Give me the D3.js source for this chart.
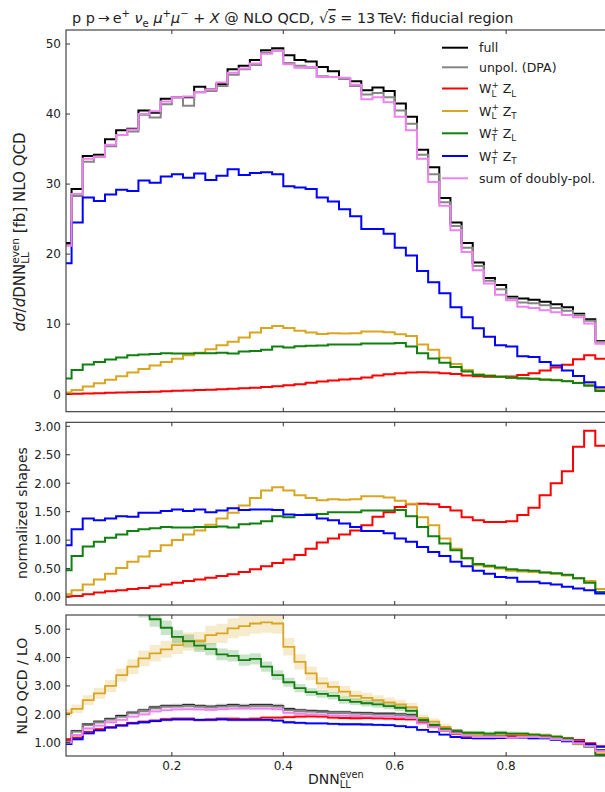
<!DOCTYPE html>
<html><head><meta charset="utf-8">
<script src="https://cdn.jsdelivr.net/npm/d3@7"></script>
<style>
body{margin:0;background:#fff}
svg{display:block}
text{font-family:"DejaVu Sans",sans-serif;fill:#222}
</style>
</head><body>
<svg id="c" width="605" height="792"></svg>
<script>
// ---------------- DATA ----------------
const binEdges = [0.00,0.02,0.04,0.06,0.08,0.10,0.12,0.14,0.16,0.18,0.20,0.22,0.24,0.26,0.28,0.30,0.32,0.34,0.36,0.38,
  0.40,0.42,0.44,0.46,0.48,0.50,0.52,0.54,0.56,0.58,0.60,0.62,0.64,0.66,0.68,0.70,0.72,0.74,0.76,0.78,
  0.80,0.82,0.84,0.86,0.88,0.90,0.92,0.94,0.96,0.98,1.00];

const seriesNames = ["full","unpol. (DPA)","LL","LT","TL","TT","sum of doubly-pol."];
const seriesColors = ["#000000","#858585","#ff0000","#daa520","#108010","#0000ff","#ee82ee"];

// top panel: dσ/dDNN [fb]
const topFull  = [21.6,29.3,34.0,34.2,36.4,37.7,37.9,40.5,40.2,42.2, 42.4,42.4,43.9,43.5,44.3,46.4,46.9,47.7,49.1,49.4, 48.4,47.7,47.5,46.7,46.1,45.0,44.7,43.4,43.8,43.3, 41.5,39.6,34.9,32.4,28.0,24.5,21.6,18.8,16.6,15.6, 13.9,13.65,13.5,13.2,12.85,12.4,11.5,10.7,7.6,7.4];
const topUnpol = [21.3,28.3,33.2,33.9,35.4,37.0,37.5,39.9,39.5,41.4, 42.4,41.2,43.1,43.3,44.0,45.6,46.4,47.0,48.8,49.1, 47.3,46.9,46.6,45.4,45.3,45.0,44.0,42.8,43.0,42.4, 40.5,38.6,34.2,31.4,27.4,24.0,20.9,18.3,16.2,15.0, 13.7,13.1,13.0,12.7,12.3,11.9,11.3,10.5,7.5,7.3];
const topLL    = [0.03,0.05,0.10,0.15,0.19,0.23,0.27,0.31,0.36,0.42, 0.48,0.54,0.60,0.65,0.71,0.77,0.84,0.93,1.03,1.14, 1.26,1.41,1.62,1.82,1.96,2.09,2.22,2.40,2.68,2.83, 3.00,3.10,3.12,3.10,3.00,2.89,2.66,2.57,2.50,2.50, 2.53,2.74,2.98,3.40,3.80,4.20,5.00,5.55,5.05,4.98];
const topLT    = [0.25,0.60,1.10,1.55,2.05,2.55,3.10,3.60,4.10,4.60, 5.05,5.55,5.90,6.40,7.00,7.50,8.10,8.80,9.45,9.75, 9.45,9.05,8.80,8.60,8.70,8.65,8.70,8.95,8.95,8.85, 8.55,8.30,7.10,6.35,5.20,4.30,3.45,2.85,2.70,2.50, 2.35,2.30,2.20,2.15,2.05,1.90,1.65,1.40,0.70,0.60];
const topTL    = [2.25,3.45,4.25,4.60,4.95,5.25,5.55,5.65,5.75,5.85, 5.80,5.80,5.85,5.85,5.90,5.80,6.10,6.15,6.35,6.80, 6.65,6.85,6.90,6.95,7.10,7.10,7.10,7.25,7.25,7.25, 7.30,6.80,5.85,5.10,4.50,3.90,3.25,2.75,2.60,2.50, 2.35,2.25,2.20,2.05,2.00,1.85,1.60,1.20,0.45,0.40];
const topTT    = [18.7,24.5,28.1,27.6,28.5,29.2,29.0,30.5,30.2,31.1, 31.4,30.9,31.5,30.6,31.2,32.1,31.3,31.6,31.7,31.4, 29.7,29.5,29.3,28.1,27.5,26.4,25.4,23.6,23.6,22.9, 20.9,19.8,17.6,16.0,14.4,12.4,11.0,9.4,8.2,7.0, 6.8,5.4,5.3,4.6,4.1,3.4,2.6,1.7,1.0,0.9];
const topSum   = [21.2,28.6,33.6,33.9,35.6,37.0,37.8,40.0,40.4,41.8, 42.4,42.5,43.1,43.5,44.5,45.9,46.5,47.2,48.6,49.0, 47.1,46.6,46.7,45.3,45.3,45.2,44.2,42.1,42.4,41.7, 39.6,37.7,33.6,30.3,26.9,23.4,20.3,17.7,15.8,14.2, 13.4,12.5,12.3,12.0,11.7,11.3,11.0,10.1,7.2,7.0];

// middle panel: normalized shapes
const shapeLL = [0.01,0.02,0.05,0.08,0.10,0.12,0.14,0.16,0.19,0.22, 0.25,0.28,0.31,0.34,0.37,0.40,0.44,0.49,0.54,0.60, 0.66,0.74,0.85,0.96,1.03,1.10,1.17,1.26,1.41,1.49, 1.58,1.63,1.64,1.63,1.58,1.52,1.40,1.35,1.32,1.32, 1.33,1.44,1.57,1.79,2.00,2.21,2.64,2.92,2.66,2.62];
const shapeLT = [0.05,0.12,0.22,0.31,0.41,0.51,0.62,0.71,0.81,0.91, 1.00,1.10,1.17,1.27,1.38,1.48,1.61,1.74,1.87,1.93, 1.87,1.79,1.74,1.70,1.72,1.71,1.72,1.77,1.77,1.75, 1.69,1.64,1.40,1.26,1.03,0.85,0.68,0.56,0.53,0.50, 0.46,0.45,0.44,0.43,0.41,0.38,0.33,0.28,0.14,0.12];
const shapeTL = [0.47,0.72,0.89,0.97,1.04,1.10,1.16,1.19,1.21,1.23, 1.22,1.22,1.23,1.23,1.24,1.22,1.28,1.29,1.33,1.42, 1.40,1.44,1.45,1.46,1.49,1.49,1.49,1.52,1.52,1.52, 1.53,1.42,1.23,1.07,0.94,0.82,0.68,0.58,0.55,0.52, 0.49,0.47,0.46,0.43,0.42,0.39,0.33,0.25,0.09,0.08];
const shapeTT = [0.91,1.19,1.38,1.35,1.38,1.42,1.41,1.48,1.48,1.51, 1.54,1.51,1.54,1.49,1.52,1.56,1.53,1.54,1.54,1.53, 1.45,1.44,1.44,1.38,1.35,1.29,1.23,1.16,1.16,1.12, 1.03,0.97,0.88,0.79,0.72,0.62,0.54,0.46,0.41,0.35, 0.34,0.27,0.27,0.24,0.22,0.18,0.15,0.12,0.06,0.05];

// bottom panel: NLO QCD / LO
const ratioFull  = [1.07,1.41,1.64,1.74,1.84,1.94,2.06,2.14,2.24,2.29, 2.30,2.32,2.29,2.27,2.30,2.32,2.30,2.32,2.32,2.30, 2.18,2.14,2.12,2.10,2.07,2.07,2.05,2.04,2.02,2.02, 2.00,1.97,1.77,1.62,1.50,1.42,1.34,1.30,1.29,1.29, 1.27,1.27,1.24,1.22,1.17,1.12,1.02,0.92,0.74,0.70];
const ratioUnpol = [1.05,1.39,1.62,1.72,1.82,1.92,2.04,2.12,2.22,2.27, 2.28,2.30,2.27,2.25,2.28,2.30,2.28,2.30,2.30,2.28, 2.15,2.12,2.10,2.08,2.05,2.05,2.03,2.02,2.00,2.00, 1.98,1.95,1.75,1.60,1.48,1.40,1.32,1.28,1.27,1.27, 1.25,1.25,1.22,1.20,1.15,1.10,1.00,0.90,0.72,0.68];
const ratioLL    = [1.12,1.18,1.38,1.48,1.55,1.62,1.70,1.74,1.78,1.83, 1.85,1.85,1.80,1.82,1.85,1.85,1.83,1.85,1.88,1.88, 1.90,1.92,1.93,1.92,1.88,1.87,1.86,1.87,1.86,1.85, 1.83,1.82,1.70,1.55,1.42,1.30,1.22,1.20,1.20,1.20, 1.22,1.25,1.25,1.25,1.20,1.15,1.10,0.98,0.88,0.85];
const ratioLT    = [2.04,2.19,2.50,2.74,3.00,3.38,3.68,3.97,4.15,4.29, 4.44,4.56,4.58,4.79,4.85,5.03,5.11,5.20,5.24,5.20, 4.38,3.85,3.44,3.09,2.97,2.80,2.65,2.58,2.50,2.42, 2.35,2.25,1.86,1.74,1.56,1.39,1.32,1.30,1.30,1.30, 1.30,1.28,1.27,1.25,1.20,1.13,0.95,0.86,0.62,0.55];
const ratioTL    = [12.0,10.0,8.5,7.5,6.8,6.3,5.9,5.7,5.35,5.05, 4.73,4.58,4.42,4.30,4.11,4.06,3.91,3.95,3.68,3.38, 3.13,2.92,2.78,2.72,2.65,2.50,2.44,2.39,2.35,2.29, 2.23,2.12,1.80,1.62,1.48,1.39,1.35,1.35,1.32,1.35, 1.32,1.32,1.28,1.25,1.21,1.15,0.98,0.86,0.57,0.50];
const ratioTT    = [0.95,1.12,1.33,1.43,1.53,1.60,1.68,1.72,1.76,1.80, 1.82,1.82,1.80,1.80,1.82,1.80,1.80,1.80,1.80,1.78, 1.72,1.70,1.68,1.68,1.66,1.65,1.65,1.64,1.63,1.62, 1.58,1.55,1.45,1.38,1.28,1.20,1.16,1.15,1.15,1.16, 1.18,1.18,1.15,1.15,1.10,1.05,1.02,0.95,0.85,0.78];
const ratioSum   = [1.00,1.27,1.50,1.60,1.72,1.80,1.92,2.00,2.10,2.15, 2.17,2.18,2.17,2.16,2.18,2.20,2.20,2.20,2.20,2.18, 2.05,2.02,2.00,1.98,1.96,1.95,1.94,1.93,1.92,1.92, 1.90,1.87,1.68,1.55,1.42,1.32,1.25,1.20,1.20,1.20, 1.18,1.20,1.20,1.18,1.13,1.08,0.98,0.88,0.70,0.65];
// relative half-width of the scale-uncertainty bands in the ratio panel
const ratioBandRel = [0.03,0.03,0.03,0.07,0.05,0.03,0.03];

const xTicks = [0.2,0.4,0.6,0.8];
const topTicks = [0,10,20,30,40,50];
const midTicks = [0,0.5,1,1.5,2,2.5,3];
const botTicks = [1,2,3,4,5];

// ---------------- DRAW ----------------
const svg = d3.select("#c");
const X0 = 66, X1 = 612;
const x = d3.scaleLinear().domain([0.01,0.99]).range([X0,X1]);

const panels = [
  {id:"top", y: d3.scaleLinear().domain([-2.5,52.0]).range([411.7,30]), ticks: topTicks, fmt: d3.format("d"),
   series:[topFull,topUnpol,topLL,topLT,topTL,topTT,topSum], idx:[0,1,2,3,4,5,6], lw:2},
  {id:"mid", y: d3.scaleLinear().domain([-0.14,3.07]).range([605,422.3]), ticks: midTicks, fmt: d3.format(".2f"),
   series:[shapeLL,shapeLT,shapeTL,shapeTT], idx:[2,3,4,5], lw:2},
  {id:"bot", y: d3.scaleLinear().domain([0.53,5.5]).range([756,615]), ticks: botTicks, fmt: d3.format(".2f"),
   series:[ratioFull,ratioUnpol,ratioLL,ratioLT,ratioTL,ratioTT,ratioSum], idx:[0,1,2,3,4,5,6], lw:1.8, bands:true}
];

function stepPts(vals){
  const pts = vals.map((v,i)=>[binEdges[i], v]);
  pts.push([binEdges[vals.length], vals[vals.length-1]]);
  return pts;
}

panels.forEach(p=>{
  const [yb, yt] = p.y.range();
  const g = svg.append("g");
  const clipId = "clip-"+p.id;
  svg.append("clipPath").attr("id",clipId).append("rect")
    .attr("x",X0).attr("y",yt).attr("width",X1-X0).attr("height",yb-yt);
  const plot = g.append("g").attr("clip-path",`url(#${clipId})`);
  if (p.bands){
    p.series.forEach((vals,k)=>{
      const ci = p.idx[k];
      const r = ratioBandRel[ci];
      const area = d3.area().curve(d3.curveStepAfter)
        .x(d=>x(d[0])).y0(d=>p.y(d[1]*(1-r))).y1(d=>p.y(d[1]*(1+r)));
      plot.append("path").attr("d",area(stepPts(vals)))
        .attr("fill",seriesColors[ci]).attr("fill-opacity",0.22).attr("stroke","none");
    });
  }
  const line = d3.line().curve(d3.curveStepAfter).x(d=>x(d[0])).y(d=>p.y(d[1]));
  p.series.forEach((vals,k)=>{
    const ci = p.idx[k];
    plot.append("path").attr("d",line(stepPts(vals)))
      .attr("fill","none").attr("stroke",seriesColors[ci]).attr("stroke-width",p.lw)
      .attr("stroke-linejoin","miter");
  });
  g.append("rect").attr("x",X0).attr("y",yt).attr("width",X1-X0).attr("height",yb-yt)
    .attr("fill","none").attr("stroke","#333").attr("stroke-width",1.1);
  xTicks.forEach(t=>{
    g.append("line").attr("x1",x(t)).attr("x2",x(t)).attr("y1",yb).attr("y2",yb-4).attr("stroke","#333");
    g.append("line").attr("x1",x(t)).attr("x2",x(t)).attr("y1",yt).attr("y2",yt+4).attr("stroke","#333");
  });
  p.ticks.forEach(t=>{
    const yy = p.y(t);
    g.append("line").attr("x1",X0).attr("x2",X0+4).attr("y1",yy).attr("y2",yy).attr("stroke","#333");
    g.append("text").attr("x",61).attr("y",yy).attr("dy","0.36em").attr("text-anchor","end")
      .attr("font-size",12).text(p.fmt(t));
  });
});

xTicks.forEach(t=>{
  svg.append("text").attr("x",x(t)).attr("y",770).attr("text-anchor","middle")
    .attr("font-size",12).text(d3.format(".1f")(t));
});

function rich(parent, parts, size, anchor){
  const t = parent.append("text").attr("font-size",size);
  if (anchor) t.attr("text-anchor",anchor);
  let cur = 0, pendingDx = 0;
  const supOff = -0.42*size, subOff = 0.28*size, small = 0.7*size;
  function add(str, off, fs, extra){
    const ts = t.append("tspan").text(str).attr("dy", off-cur);
    if (pendingDx){ ts.attr("dx",pendingDx); pendingDx = 0; }
    if (fs) ts.attr("font-size",fs);
    if (extra) extra(ts);
    cur = off;
    return ts;
  }
  parts.forEach(p=>{
    if (typeof p === "string") add(p,0,null);
    else if (p.sup!==undefined && p.sub!==undefined){
      const a = add(p.sup,supOff,small);
      const wa = a.node().getComputedTextLength();
      const b = add(p.sub,subOff,small,ts=>ts.attr("dx",-wa));
      const wb = b.node().getComputedTextLength();
      if (wa>wb) pendingDx = wa-wb;
    }
    else if (p.sup!==undefined) add(p.sup,supOff,small);
    else if (p.sub!==undefined) add(p.sub,subOff,small);
    else if (p.i!==undefined) add(p.i,0,null,ts=>ts.attr("font-style","italic"));
    else if (p.o!==undefined) add(p.o,0,null,ts=>ts.attr("font-style","italic").attr("text-decoration","overline"));
  });
  return t;
}

rich(svg.append("g").attr("transform","translate(72,23)"),
  ["p p\u2009\u2192\u2009e",{sup:"+"}," ",{i:"\u03bd"},{sub:"e"}," ",{i:"\u03bc"},{sup:"+"},{i:"\u03bc"},{sup:"\u2212"},
   " + ",{i:"X"}," @ NLO QCD, \u221a",{o:"s"}," = 13\u2009TeV: fiducial region"], 14.4);

// y labels
const yl = rich(svg.append("g").attr("transform","translate(25,0) rotate(-90)"),
  [{i:"d\u03c3"},"/",{i:"d"},"DNN",{sup:"even",sub:"LL"}," [fb] NLO QCD"], 15);
{
  const len = yl.node().getComputedTextLength ? yl.node().getBBox().width : 0;
  yl.attr("x", -(232 + len/2));
}
svg.append("text").attr("transform","translate(27,513) rotate(-90)").attr("text-anchor","middle")
  .attr("font-size",14).text("normalized shapes");
svg.append("text").attr("transform","translate(27,686) rotate(-90)").attr("text-anchor","middle")
  .attr("font-size",14).text("NLO QCD / LO");

rich(svg.append("g").attr("transform","translate(308,784)"), ["DNN",{sup:"even",sub:"LL"}], 14);

const legendRows = [
  {c:0, parts:["full"]},
  {c:1, parts:["unpol. (DPA)"]},
  {c:2, parts:["W",{sup:"+",sub:"L"}," Z",{sub:"L"}]},
  {c:3, parts:["W",{sup:"+",sub:"L"}," Z",{sub:"T"}]},
  {c:4, parts:["W",{sup:"+",sub:"T"}," Z",{sub:"L"}]},
  {c:5, parts:["W",{sup:"+",sub:"T"}," Z",{sub:"T"}]},
  {c:6, parts:["sum of doubly-pol."]}
];
const legY = [47.7,67.3,88.5,111,133.3,156,178.3];
legendRows.forEach((r,i)=>{
  svg.append("line").attr("x1",442).attr("x2",468).attr("y1",legY[i]).attr("y2",legY[i])
    .attr("stroke",seriesColors[r.c]).attr("stroke-width",2);
  rich(svg.append("g").attr("transform",`translate(479,${legY[i]+4.5})`), r.parts, 12.5);
});
</script>
</body></html>
